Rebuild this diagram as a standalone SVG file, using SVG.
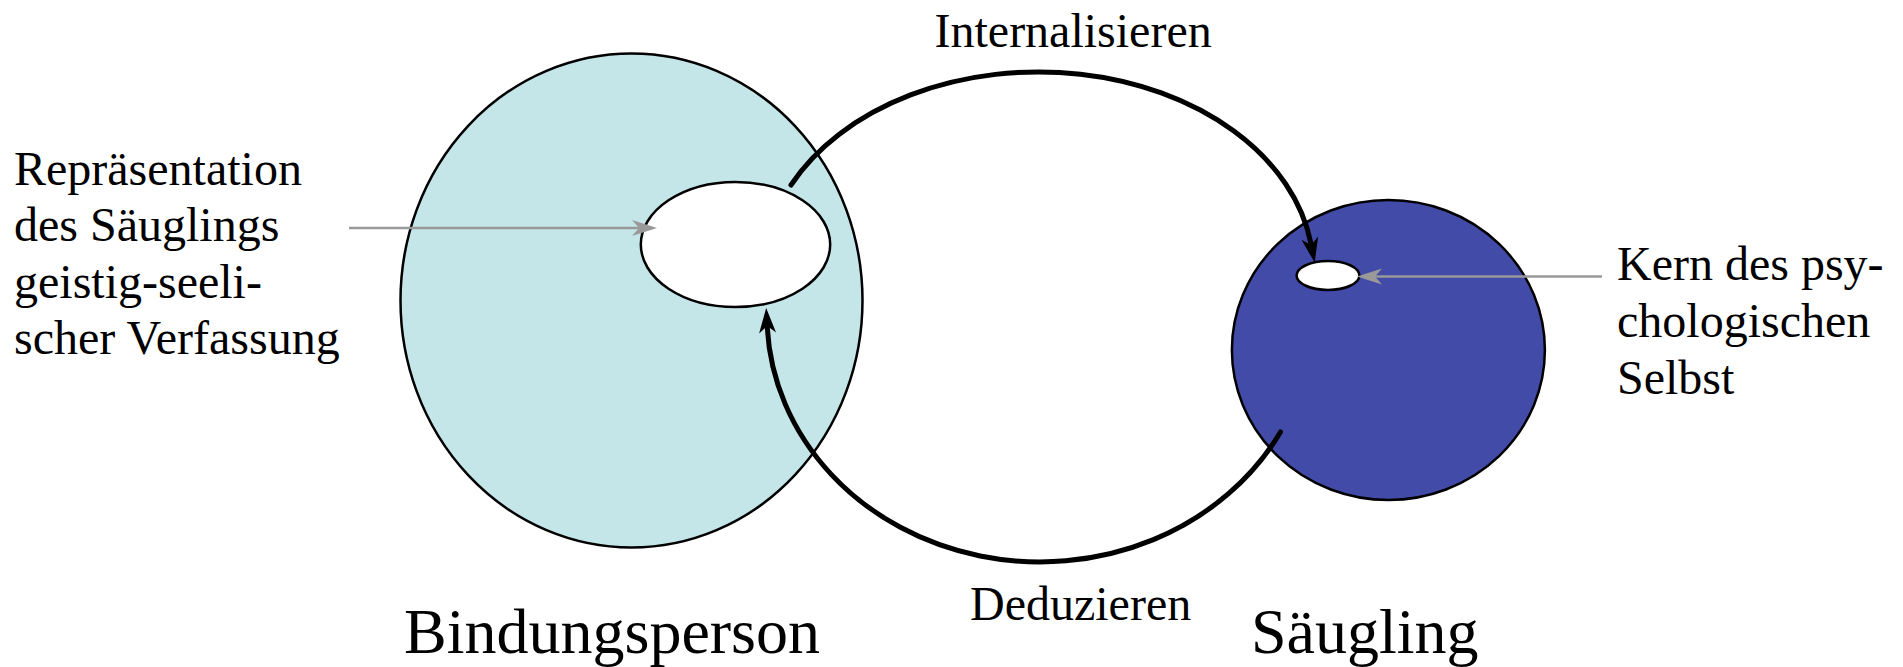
<svg xmlns="http://www.w3.org/2000/svg" width="1903" height="667" viewBox="0 0 1903 667">
  <style>
    .label { font-family: "Liberation Serif", "Times New Roman", serif; fill: #000; }
    .small { font-size: 48px; }
    .big { font-size: 64px; }
    .outline { stroke: #000; stroke-width: 2.5; }
    .flow { fill: none; stroke: #000; stroke-width: 5; stroke-linecap: round; }
    .pointer { fill: none; stroke: #999; stroke-width: 2.5; }
  </style>
  <defs>
    <marker id="headBlack" markerUnits="userSpaceOnUse" markerWidth="30" markerHeight="24" viewBox="0 -12 30 24" refX="5" refY="0" orient="auto" overflow="visible">
      <path d="M25,0 L0,-8.5 L7,0 L0,8.5 Z" fill="#000"/>
    </marker>
    <marker id="headGray" markerUnits="userSpaceOnUse" markerWidth="30" markerHeight="20" viewBox="0 -10 30 20" refX="20" refY="0" orient="auto" overflow="visible">
      <path d="M25,0 L0,-8 L7,0 L0,8 Z" fill="#999"/>
    </marker>
  </defs>

  <rect width="1903" height="667" fill="#fff"/>

  <!-- attachment figure with its inner representation -->
  <g id="bindungsperson">
    <ellipse cx="631.5" cy="300.5" rx="231" ry="247" fill="#c4e6e8" class="outline"/>
    <text class="label big" x="404" y="653">Bindungsperson</text>
  </g>

  <g id="repraesentation">
    <ellipse cx="735.5" cy="244.5" rx="94.7" ry="62.5" fill="#fff" class="outline"/>
  </g>

  <!-- infant with the core of the psychological self -->
  <g id="saeugling">
    <ellipse cx="1388.4" cy="350" rx="156.5" ry="150" fill="#434ba9" class="outline"/>
    <text class="label big" x="1251" y="653">Säugling</text>
  </g>

  <g id="kern">
    <ellipse cx="1328" cy="275.5" rx="31.4" ry="14.5" fill="#fff" class="outline"/>
  </g>

  <!-- annotation texts -->
  <g id="label-repraesentation" class="label small">
    <text x="14" y="185">Repräsentation</text>
    <text x="14" y="241">des Säuglings</text>
    <text x="14" y="297.5">geistig-seeli-</text>
    <text x="14" y="354">scher Verfassung</text>
  </g>

  <g id="label-kern" class="label small">
    <text x="1617" y="280">Kern des psy-</text>
    <text x="1617" y="337">chologischen</text>
    <text x="1617" y="394">Selbst</text>
  </g>

  <!-- connectors -->
  <g id="connectors">
    <path id="internalisieren" class="flow" d="M791,185 A275,200 0 0 1 1310.8,243" marker-end="url(#headBlack)"/>
    <path id="deduzieren" class="flow" d="M1280.5,432 A273,246.5 0 0 1 767.3,328" marker-end="url(#headBlack)"/>
    <path class="pointer" d="M349,228 L652,228" marker-end="url(#headGray)"/>
    <path class="pointer" d="M1602,276.5 L1362,276.5" marker-end="url(#headGray)"/>
    <text class="label small" x="934.5" y="46.5">Internalisieren</text>
    <text class="label small" x="970" y="619.5">Deduzieren</text>
  </g>
</svg>
